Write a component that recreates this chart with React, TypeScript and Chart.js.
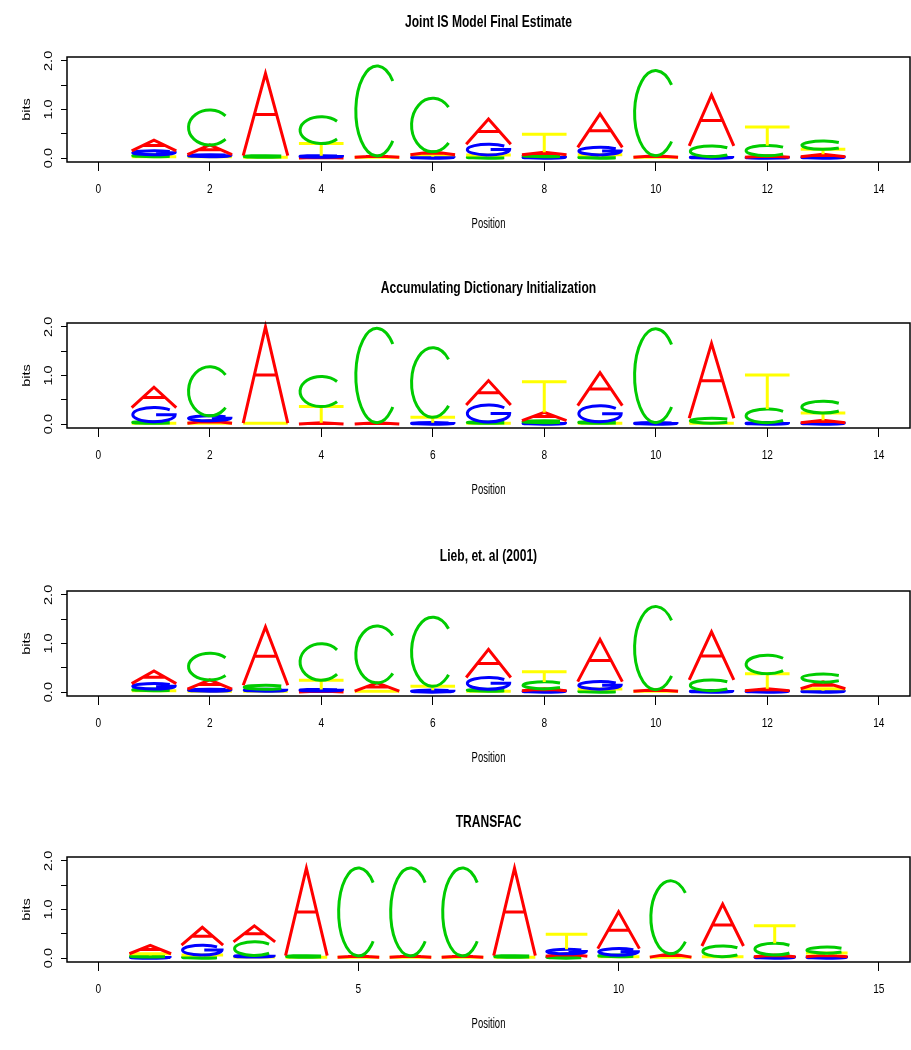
import React, { useEffect, useRef } from 'react';
import { Chart, registerables } from 'chart.js';

Chart.register(...registerables);

// ---------- data ----------
const LETTERS = ['A', 'C', 'G', 'T'];
const LETTER_COLORS = ['#FF0000', '#00CC00', '#0000FF', '#FFFF00'];

const TITLES = [
  'Joint IS Model Final Estimate',
  'Accumulating Dictionary Initialization',
  'Lieb, et. al (2001)',
  'TRANSFAC',
];

const POSITIONS_13 = [1, 2, 3, 4, 5, 6, 7, 8, 9, 10, 11, 12, 13];
const POSITIONS_14 = [1, 2, 3, 4, 5, 6, 7, 8, 9, 10, 11, 12, 13, 14];

const X_TICKS_14 = [0, 2, 4, 6, 8, 10, 12, 14];
const X_TICKS_15 = [0, 5, 10, 15];
const Y_TICKS = [0, 0.5, 1, 1.5, 2];
const Y_TICK_LABELS = ['0.0', '', '1.0', '', '2.0'];
const X_TITLE = 'Position';
const Y_TITLE = 'bits';

// Panel 1: Joint IS Model Final Estimate
const P1_A = [0.22, 0.2, 1.69, 0.02, 0.025, 0.06, 0.52, 0.05, 0.69, 0.03, 1.05, 0.03, 0.05];
const P1_C = [0.04, 0.72, 0.03, 0.55, 1.85, 1.1, 0.03, 0.04, 0.03, 1.75, 0.22, 0.21, 0.17];
const P1_G = [0.08, 0.04, 0, 0.03, 0, 0.03, 0.22, 0.03, 0.15, 0, 0.03, 0.02, 0.03];
const P1_T = [0.03, 0.03, 0.02, 0.25, 0.02, 0.04, 0.035, 0.37, 0.04, 0.02, 0, 0.38, 0.1];

// Panel 2: Accumulating Dictionary Initialization
const P2_A = [0.42, 0.05, 1.98, 0.03, 0.03, 0, 0.5, 0.17, 0.68, 0, 1.54, 0, 0.05];
const P2_C = [0.03, 1.01, 0, 0.62, 1.94, 1.43, 0.025, 0.04, 0.03, 1.93, 0.1, 0.28, 0.24];
const P2_G = [0.29, 0.1, 0, 0, 0, 0.03, 0.35, 0.03, 0.33, 0.03, 0, 0.03, 0.03];
const P2_T = [0.02, 0.02, 0.02, 0.33, 0, 0.11, 0.02, 0.63, 0.02, 0, 0.02, 0.7, 0.15];

// Panel 3: Lieb, et. al (2001)
const P3_A = [0.26, 0.19, 1.2, 0.025, 0.17, 0, 0.58, 0.04, 0.87, 0.03, 0.99, 0.04, 0.14];
const P3_C = [0.035, 0.55, 0.08, 0.75, 1.17, 1.42, 0.04, 0.14, 0.03, 1.71, 0.22, 0.38, 0.16];
const P3_G = [0.11, 0.04, 0.04, 0.03, 0, 0.04, 0.24, 0.03, 0.15, 0, 0.03, 0.03, 0.03];
const P3_T = [0.03, 0.02, 0.02, 0.19, 0.02, 0.08, 0.02, 0.21, 0.035, 0.02, 0, 0.31, 0.04];

// Panel 4: TRANSFAC
const P4_A = [0.17, 0.37, 0.33, 1.8, 0.025, 0.025, 0.025, 1.8, 0.05, 0.76, 0.07, 0.86, 0.035, 0.035];
const P4_C = [0.03, 0.03, 0.28, 0.03, 1.81, 1.81, 1.81, 0.03, 0.04, 0.035, 1.5, 0.22, 0.24, 0.12];
const P4_G = [0.025, 0.2, 0.03, 0, 0, 0, 0, 0, 0.09, 0.13, 0, 0, 0.03, 0.03];
const P4_T = [0.035, 0.035, 0.025, 0.02, 0.02, 0.02, 0.02, 0.02, 0.31, 0.03, 0.02, 0.03, 0.36, 0.04];

const PANELS = [
  { title: TITLES[0], positions: POSITIONS_13, xTicks: X_TICKS_14, xSpan: 14, series: [P1_A, P1_C, P1_G, P1_T] },
  { title: TITLES[1], positions: POSITIONS_13, xTicks: X_TICKS_14, xSpan: 14, series: [P2_A, P2_C, P2_G, P2_T] },
  { title: TITLES[2], positions: POSITIONS_13, xTicks: X_TICKS_14, xSpan: 14, series: [P3_A, P3_C, P3_G, P3_T] },
  { title: TITLES[3], positions: POSITIONS_14, xTicks: X_TICKS_15, xSpan: 15, series: [P4_A, P4_C, P4_G, P4_T] },
];

// ---------- layout / style ----------
const W = 911;
const PANEL_H = 267;
const PANEL_TOPS = [0, 266, 534, 800];
const FONT = "'Liberation Sans', Arial, Helvetica, sans-serif";

function drawGlyph(ctx: CanvasRenderingContext2D, letter: string, x0: number, x1: number, yb: number, yt: number) {
  const xm = (x0 + x1) / 2;
  const hw = (x1 - x0) / 2;
  ctx.beginPath();
  if (letter === 'A') {
    ctx.moveTo(x0, yb);
    ctx.lineTo(xm, yt);
    ctx.lineTo(x1, yb);
    const ym = yb + (yt - yb) * 0.5;
    ctx.moveTo(x0 + (xm - x0) * 0.5, ym);
    ctx.lineTo(x1 - (x1 - xm) * 0.5, ym);
  } else if (letter === 'C') {
    const cy = (yb + yt) / 2;
    const ry = Math.max((yb - yt) / 2, 0.01);
    ctx.ellipse(xm, cy, hw * 0.95, ry, 0, -0.73, 0.73, true);
  } else if (letter === 'G') {
    const cy = (yb + yt) / 2;
    const ry = Math.max((yb - yt) / 2, 0.01);
    const rx = hw * 0.95;
    ctx.ellipse(xm, cy, rx, ry, 0, -0.73, 0, true);
    ctx.lineTo(xm + rx * 0.1, cy);
  } else {
    ctx.moveTo(x0, yt);
    ctx.lineTo(x1, yt);
    ctx.moveTo(xm, yt);
    ctx.lineTo(xm, yb);
  }
  ctx.stroke();
}

// text squeezed horizontally (the reference figure is horizontally compressed)
function squeezedText(
  ctx: CanvasRenderingContext2D,
  text: string,
  x: number,
  y: number,
  font: string,
  sx: number,
  rotate: boolean
) {
  ctx.save();
  ctx.translate(x, y);
  ctx.scale(sx, 1);
  if (rotate) ctx.rotate(-Math.PI / 2);
  ctx.font = font;
  ctx.textAlign = 'center';
  ctx.textBaseline = 'middle';
  ctx.fillStyle = '#000';
  ctx.fillText(text, 0, 0);
  ctx.restore();
}

const logoPlugin = {
  id: 'seqLogo',
  afterDatasetsDraw(chart: any) {
    const { ctx, scales } = chart;
    const xs = scales.x;
    const ys = scales.y;
    const ds = chart.data.datasets;
    const n = ds[0].data.length;
    ctx.save();
    ctx.lineWidth = 3;
    ctx.lineCap = 'butt';
    ctx.lineJoin = 'miter';
    for (let i = 0; i < n; i++) {
      const pos = ds[0].data[i].x;
      const items = ds
        .map((d: any, k: number) => ({ k, h: d.data[i].y }))
        .filter((o: any) => o.h > 0)
        .sort((a: any, b: any) => a.h - b.h);
      let base = 0;
      for (const it of items) {
        const x0 = xs.getPixelForValue(pos - 0.4);
        const x1 = xs.getPixelForValue(pos + 0.4);
        const yb = ys.getPixelForValue(base);
        const yt = ys.getPixelForValue(base + it.h);
        ctx.strokeStyle = LETTER_COLORS[it.k];
        drawGlyph(ctx, LETTERS[it.k], x0, x1, yb, yt);
        base += it.h;
      }
    }
    ctx.restore();
  },
  afterDraw(chart: any) {
    const { ctx, chartArea, scales } = chart;
    const xs = scales.x;
    const ys = scales.y;
    ctx.save();
    ctx.strokeStyle = '#000';
    ctx.lineWidth = 1.5;
    ctx.strokeRect(chartArea.left, chartArea.top, chartArea.right - chartArea.left, chartArea.bottom - chartArea.top);
    ctx.restore();

    const cx = (chartArea.left + chartArea.right) / 2;
    const cy = (chartArea.top + chartArea.bottom) / 2;
    const title = chart.options.plugins.logoTitle?.text || '';
    squeezedText(ctx, title, cx, 22, `bold 17px ${FONT}`, 0.71, false);

    // x tick labels
    xs.ticks.forEach((t: any) => {
      const px = xs.getPixelForValue(t.value);
      squeezedText(ctx, String(t.value), px, 189, `13.5px ${FONT}`, 0.75, false);
    });
    // y tick labels (rotated)
    ys.ticks.forEach((t: any) => {
      const idx = Y_TICKS.indexOf(t.value);
      const lab = idx >= 0 ? Y_TICK_LABELS[idx] : '';
      if (!lab) return;
      const py = ys.getPixelForValue(t.value);
      squeezedText(ctx, lab, 49, py, `14.5px ${FONT}`, 0.8, true);
    });
    squeezedText(ctx, X_TITLE, cx, 224.5, `14px ${FONT}`, 0.68, false);
    squeezedText(ctx, Y_TITLE, 27, cy, `14.5px ${FONT}`, 0.8, true);
  },
};

function LogoPanel({ panel }: { panel: any }) {
  const ref = useRef<HTMLCanvasElement | null>(null);
  useEffect(() => {
    if (!ref.current) return;
    const pad = panel.xSpan * 0.04;
    const chart = new Chart(ref.current, {
      type: 'scatter',
      data: {
        datasets: LETTERS.map((l, k) => ({
          label: l,
          data: panel.positions.map((p: number, i: number) => ({ x: p, y: panel.series[k][i] })),
          pointRadius: 0,
          showLine: false,
          backgroundColor: LETTER_COLORS[k],
          borderColor: LETTER_COLORS[k],
        })),
      },
      options: {
        animation: false,
        responsive: false,
        maintainAspectRatio: false,
        devicePixelRatio: 1,
        events: [],
        layout: { padding: { top: 57, right: 1, left: 0, bottom: 0 } },
        plugins: {
          legend: { display: false },
          tooltip: { enabled: false },
          title: { display: false },
          logoTitle: { text: panel.title },
        } as any,
        scales: {
          x: {
            type: 'linear',
            min: -pad,
            max: panel.xSpan + pad,
            afterBuildTicks: (s: any) => {
              s.ticks = panel.xTicks.map((v: number) => ({ value: v }));
            },
            afterFit: (s: any) => {
              s.height = 105;
            },
            ticks: { display: false, autoSkip: false, maxRotation: 0, minRotation: 0 },
            grid: { drawOnChartArea: false, drawTicks: true, tickLength: 9, color: '#000', lineWidth: 1 },
            border: { display: false },
            title: { display: false, text: X_TITLE },
          },
          y: {
            type: 'linear',
            min: -0.08,
            max: 2.08,
            afterBuildTicks: (s: any) => {
              s.ticks = Y_TICKS.map((v) => ({ value: v }));
            },
            afterFit: (s: any) => {
              s.width = 67;
            },
            ticks: { display: false, autoSkip: false },
            grid: { drawOnChartArea: false, drawTicks: true, tickLength: 6, color: '#000', lineWidth: 1 },
            border: { display: false },
            title: { display: false, text: Y_TITLE },
          },
        },
      } as any,
      plugins: [logoPlugin],
    });
    return () => chart.destroy();
  }, [panel]);
  return <canvas ref={ref} width={W} height={PANEL_H} style={{ display: 'block', width: W, height: PANEL_H }} />;
}

export default function App() {
  return (
    <div style={{ position: 'fixed', left: 0, top: 0, width: W, height: 1050, overflow: 'hidden', background: '#fff' }}>
      {PANELS.map((p, i) => (
        <div key={i} style={{ position: 'absolute', left: 0, top: PANEL_TOPS[i], width: W, height: PANEL_H }}>
          <LogoPanel panel={p} />
        </div>
      ))}
    </div>
  );
}
